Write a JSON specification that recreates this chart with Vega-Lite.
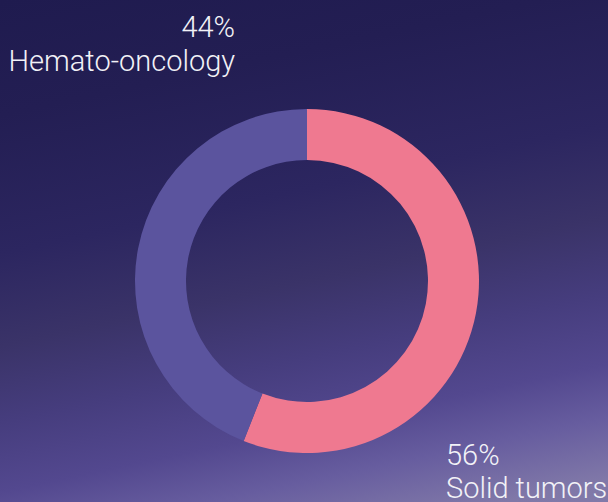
{
  "$schema": "https://vega.github.io/schema/vega-lite/v6.json",
  "width": 614,
  "height": 562,
  "autosize": {"type": "none"},
  "padding": {"left": 0, "top": 0, "right": -6, "bottom": -60},
  "background": "#211c51",
  "view": {
    "stroke": null,
    "fill": {"expr": "{gradient: 'linear', x1: 0, y1: 0, x2: 0.3, y2: 1.3, stops: [{offset: 0, color: '#1f1b4f'}, {offset: 0.15, color: '#231e53'}, {offset: 0.33, color: '#2c2660'}, {offset: 0.45, color: '#3a3368'}, {offset: 0.55, color: '#463d7e'}, {offset: 0.64, color: '#53488f'}, {offset: 0.71, color: '#675d9f'}, {offset: 0.79, color: '#8078a8'}, {offset: 1, color: '#8a82b0'}]}"}
  },
  "config": {"font": "Roboto"},
  "data": {
    "values": [
      {"category": "Solid tumors", "value": 56, "label": "56%\nSolid tumors"},
      {"category": "Hemato-oncology", "value": 44, "label": "44%\nHemato-oncology"}
    ]
  },
  "encoding": {
    "theta": {"field": "value", "type": "quantitative", "stack": true},
    "order": {"field": "category", "sort": "descending"}
  },
  "layer": [
    {
      "mark": {"type": "arc", "innerRadius": 121, "outerRadius": 172},
      "encoding": {
        "color": {
          "field": "category",
          "type": "nominal",
          "scale": {"domain": ["Solid tumors", "Hemato-oncology"], "range": ["#ef7990", "#5b549e"]},
          "legend": null
        }
      }
    },
    {
      "mark": {"type": "text", "radius": 172, "dx": 97, "dy": -212, "align": "right", "baseline": "alphabetic", "lineBreak": "\n", "lineHeight": 34, "fontSize": 29, "fontWeight": 300, "font": "Roboto Light, Roboto", "color": "#f2f2f7"},
      "encoding": {
        "detail": {"field": "category", "type": "nominal"},
        "text": {"condition": {"test": "datum.category === 'Hemato-oncology'", "field": "label"}, "value": ""}
      }
    },
    {
      "mark": {"type": "text", "radius": 172, "dx": -30, "dy": 152, "align": "left", "baseline": "alphabetic", "lineBreak": "\n", "lineHeight": 33, "fontSize": 29, "fontWeight": 300, "font": "Roboto Light, Roboto", "color": "#f2f2f7"},
      "encoding": {
        "detail": {"field": "category", "type": "nominal"},
        "text": {"condition": {"test": "datum.category === 'Solid tumors'", "field": "label"}, "value": ""}
      }
    }
  ]
}
